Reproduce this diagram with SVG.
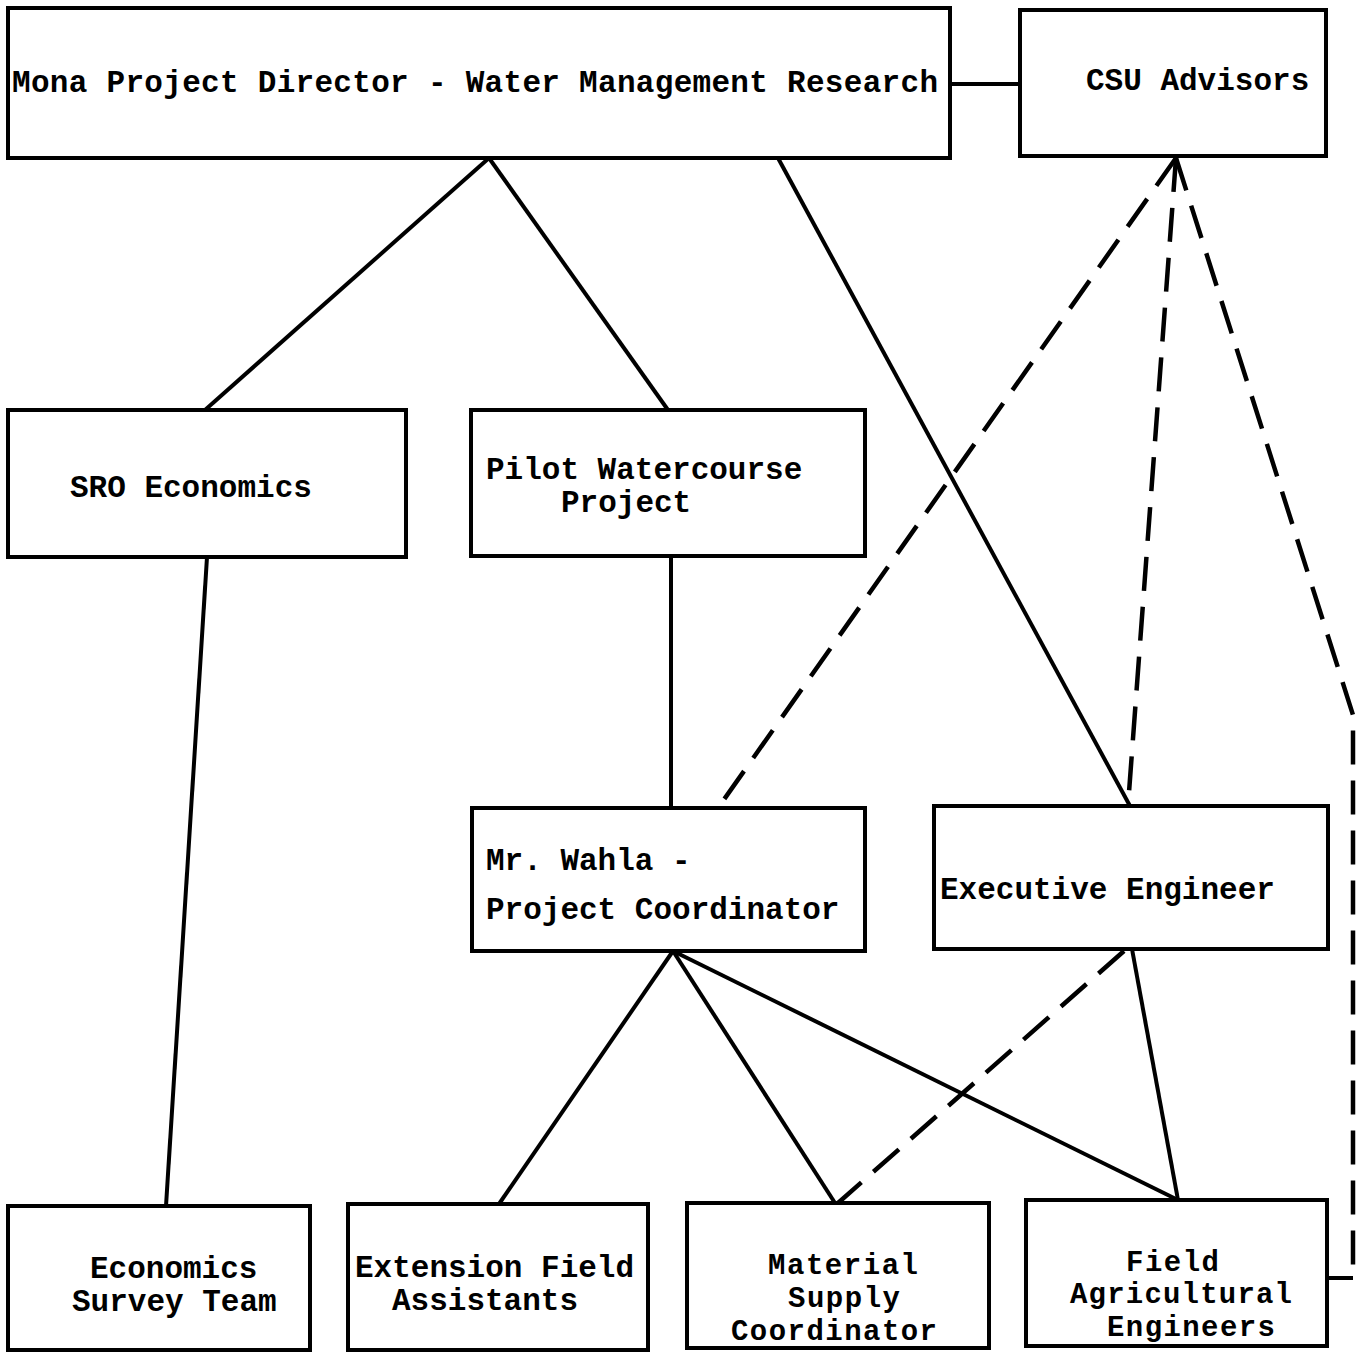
<svg xmlns="http://www.w3.org/2000/svg" width="1356" height="1352" viewBox="0 0 1356 1352">
<style>
.box{fill:#fff;stroke:#000;stroke-width:4}
.t{font-family:"Liberation Mono","Courier New",monospace;font-weight:bold;font-size:31px;fill:#000}
.t3{font-family:"Liberation Mono","Courier New",monospace;font-weight:bold;font-size:29px;fill:#000}
.s{fill:none;stroke:#000;stroke-width:4}
.d{fill:none;stroke:#000;stroke-width:4.5;stroke-dasharray:34 16}
</style>
<rect width="1356" height="1352" fill="#fff"/>
<g id="connectors">
<line class="s" x1="950" y1="84" x2="1020" y2="84"/>
<line class="s" x1="489" y1="158" x2="205" y2="410"/>
<line class="s" x1="489" y1="158" x2="668" y2="410"/>
<line class="s" x1="778" y1="158" x2="1130" y2="806"/>
<line class="s" x1="207" y1="557" x2="166" y2="1206"/>
<line class="s" x1="671" y1="556" x2="671" y2="808"/>
<line class="s" x1="673" y1="951" x2="499" y2="1204"/>
<line class="s" x1="673" y1="951" x2="835" y2="1203"/>
<line class="s" x1="673" y1="951" x2="1178" y2="1200"/>
<line class="s" x1="1132" y1="949" x2="1178" y2="1200"/>
<line class="d" x1="1176" y1="158" x2="718" y2="808"/>
<line class="d" x1="1176" y1="158" x2="1128" y2="806"/>
<line class="d" x1="1124" y1="951" x2="838" y2="1203"/>
<polyline class="d" points="1176,158 1353,715 1353,1278"/>
<line class="s" x1="1353" y1="1278" x2="1327" y2="1278"/>
</g>
<g id="n1"><rect class="box" x="8" y="8" width="942" height="150"/><text class="t" x="12" y="92" textLength="926" lengthAdjust="spacing">Mona Project Director - Water Management Research</text></g>
<g id="n2"><rect class="box" x="1020" y="10" width="306" height="146"/><text class="t" x="1086" y="90">CSU Advisors</text></g>
<g id="n3"><rect class="box" x="8" y="410" width="398" height="147"/><text class="t" x="70" y="497">SRO Economics</text></g>
<g id="n4"><rect class="box" x="471" y="410" width="394" height="146"/><text class="t" x="486" y="479">Pilot Watercourse</text><text class="t" x="561" y="512">Project</text></g>
<g id="n5"><rect class="box" x="472" y="808" width="393" height="143"/><text class="t" x="486" y="870">Mr. Wahla -</text><text class="t" x="486" y="919">Project Coordinator</text></g>
<g id="n6"><rect class="box" x="934" y="806" width="394" height="143"/><text class="t" x="940" y="899">Executive Engineer</text></g>
<g id="n7"><rect class="box" x="8" y="1206" width="302" height="144"/><text class="t" x="90" y="1278">Economics</text><text class="t" x="72" y="1311">Survey Team</text></g>
<g id="n8"><rect class="box" x="348" y="1204" width="300" height="146"/><text class="t" x="355" y="1277">Extension Field</text><text class="t" x="392" y="1310">Assistants</text></g>
<g id="n9"><rect class="box" x="687" y="1203" width="302" height="145"/><text class="t3" x="768" y="1274" textLength="150">Material</text><text class="t3" x="788" y="1307" textLength="112">Supply</text><text class="t3" x="731" y="1340" textLength="206">Coordinator</text></g>
<g id="n10"><rect class="box" x="1026" y="1200" width="301" height="146"/><text class="t3" x="1126" y="1271" textLength="93">Field</text><text class="t3" x="1070" y="1303" textLength="222">Agricultural</text><text class="t3" x="1107" y="1336" textLength="168">Engineers</text></g>
</svg>
